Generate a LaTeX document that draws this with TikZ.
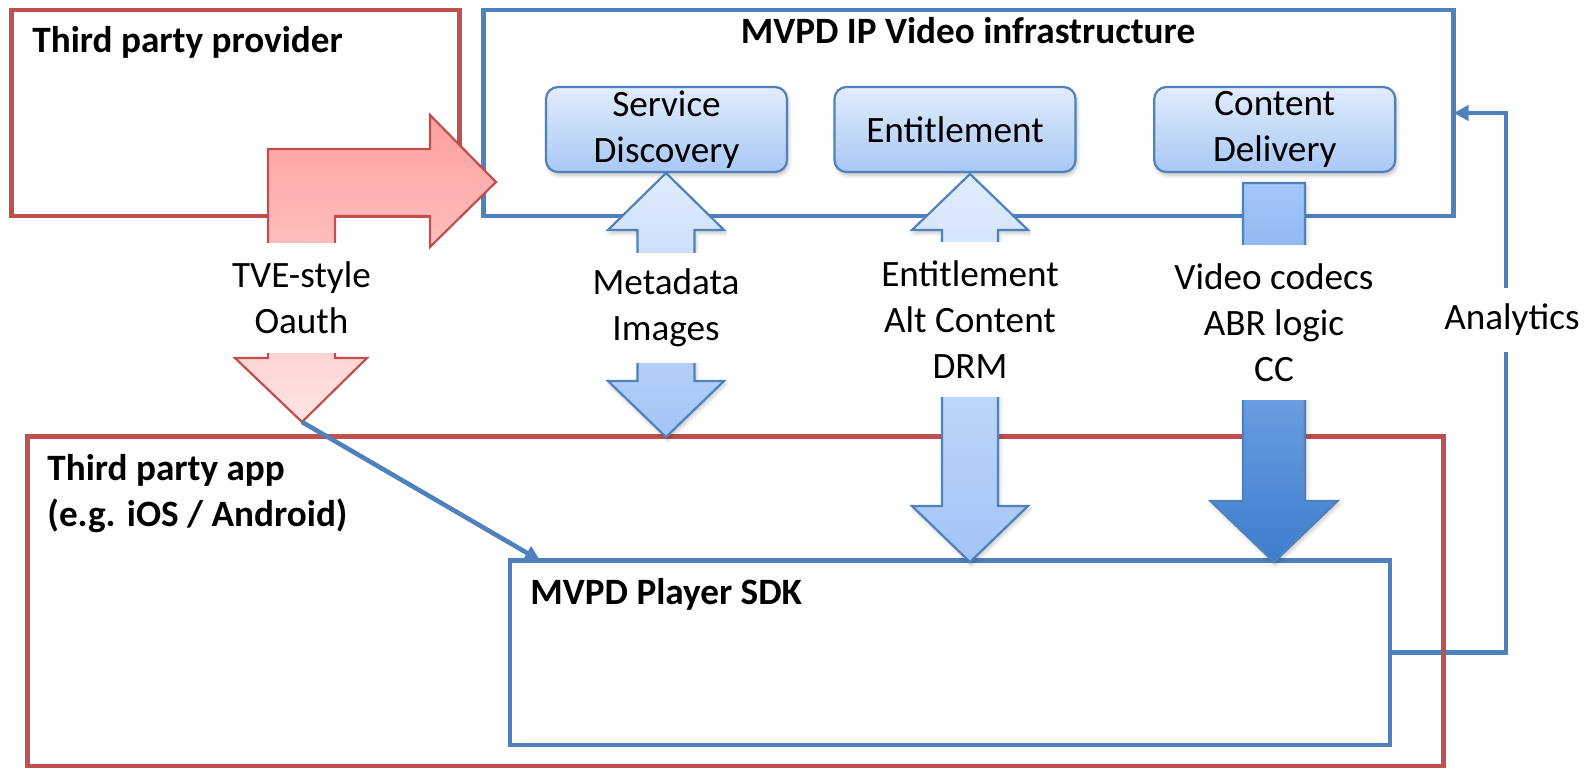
\documentclass[tikz,border=0pt]{standalone}
\usepackage{fontspec}
\setmainfont{Carlito}
\usetikzlibrary{arrows.meta,shadows.blur}

\definecolor{edgered}{HTML}{C0504D}
\definecolor{edgeblue}{HTML}{4F81BD}
\definecolor{svctop}{HTML}{E2ECFC}
\definecolor{svcbot}{HTML}{A8C8F5}
\definecolor{flowtop}{HTML}{E0ECFD}
\definecolor{flowbot}{HTML}{A2C4F6}
\definecolor{mediatop}{HTML}{A2C6F7}
\definecolor{mediabot}{HTML}{3D7ECD}
\definecolor{authtop}{HTML}{FFA0A0}
\definecolor{authbot}{HTML}{FFE4E4}

\begin{document}
\begin{tikzpicture}[x=0.5pt, y=-0.5pt,
  every node/.style={font=\fontsize{18.6}{23}\selectfont},
  frame/.style={draw, line width=2.3pt, inner sep=0pt, outer sep=0pt},
  redframe/.style={frame, draw=edgered},
  blueframe/.style={frame, draw=edgeblue},
  svcbox/.style={draw=edgeblue, line width=1.1pt, rounded corners=6pt,
    top color=svctop, bottom color=svcbot, align=center,
    minimum width=120.5pt, minimum height=42.5pt, inner sep=0pt,
    blur shadow={shadow xshift=0.8pt, shadow yshift=-1.6pt, shadow opacity=25, shadow blur steps=6}},
  blockarrow/.style={draw=edgeblue, line width=1.1pt, line join=miter,
    blur shadow={shadow xshift=0.8pt, shadow yshift=-1.6pt, shadow opacity=22, shadow blur steps=6}},
  lbl/.style={fill=white, align=center, inner xsep=4pt, inner ysep=0pt},
  heading/.style={font=\fontsize{18.6}{23}\selectfont\bfseries, inner sep=0pt},
  conn/.style={draw=edgeblue, line width=2.3pt, -{Triangle[length=7.5pt,width=7.5pt]}}
]
\useasboundingbox (0,0) rectangle (1585,769);

% outer frames
\node[redframe, minimum width=224pt, minimum height=103pt] (provider) at (235.5,113) {};
\node[blueframe, minimum width=485pt, minimum height=103pt] (infra) at (968.5,113) {};
\node[blueframe, minimum width=440pt, minimum height=92.25pt] (sdk) at (950,652.75) {};

% analytics feedback loop, runs under the app frame
\draw[conn] (sdk.east) -- ++(116,0) |- (infra.east);
\node[fill=white, inner xsep=3pt, inner ysep=0pt, minimum height=32pt] (analytics) at (1512,320) {Analytics};

\node[redframe, minimum width=708pt, minimum height=164.75pt] (app) at (735.5,601.25) {};

% frame headings
\node[heading, anchor=base west] (providerlbl) at (32,53) {Third party provider};
\node[heading, anchor=base] (infralbl) at (968,43.5) {MVPD IP Video infrastructure};
\node[heading, anchor=north west, align=left] (applbl) at (47,454) {Third party app\\(e.g. iOS / Android)};
\node[heading, anchor=base west] (sdklbl) at (530,605) {MVPD Player SDK};

% services
\node[svcbox] (sd) at (666.5,129.5) {Service\\Discovery};
\node[svcbox] (ent) at (955,129.5) {Entitlement};
\node[svcbox] (cd) at (1274.75,129.5) {Content\\Delivery};

% sign-in flow: bent arrow from the provider into the infrastructure and down to the app
\coordinate (authtip) at (302,422);
\draw[draw=edgered, line width=1.1pt, line join=miter, top color=authtop, bottom color=authbot]
  (authtip) -- (367,358) -- (335,358) -- (335,216) -- (430,216) -- (430,247)
  -- (496,182) -- (430,115) -- (430,149) -- (268,149) -- (268,358) -- (235,358) -- cycle;
\node[lbl, minimum height=55pt] (authlbl) at (301.5,298) {TVE-style\\Oauth};
\draw[conn] (authtip) -- ([xshift=15pt]sdk.north west);

% metadata: two-way arrow between Service Discovery and the app
\draw[blockarrow, top color=flowtop, bottom color=flowbot]
  (666,173) -- (724,230) -- (694.5,230) -- (694.5,381) -- (724,381) -- (666,437)
  -- (608,381) -- (637.5,381) -- (637.5,230) -- (608,230) -- cycle;
\node[lbl, minimum height=55pt] (metalbl) at (666,308) {Metadata\\Images};

% entitlement: two-way arrow between Entitlement and the SDK
\draw[blockarrow, top color=flowtop, bottom color=flowbot]
  (970,174) -- (1028,230) -- (998,230) -- (998,506) -- (1028,506) -- (970,562)
  -- (912,506) -- (942,506) -- (942,230) -- (912,230) -- cycle;
\node[lbl, minimum height=77.5pt] (entlbl) at (970,319.5) {Entitlement\\Alt Content\\DRM};

% content delivery: one-way arrow down to the SDK
\draw[blockarrow, top color=mediatop, bottom color=mediabot]
  (1243,183) -- (1305,183) -- (1305,501) -- (1337.5,501) -- (1274,562)
  -- (1210.5,501) -- (1243,501) -- cycle;
\node[lbl, minimum height=77.5pt] (cdlbl) at (1274,322.5) {Video codecs\\ABR logic\\CC};

\end{tikzpicture}
\end{document}
